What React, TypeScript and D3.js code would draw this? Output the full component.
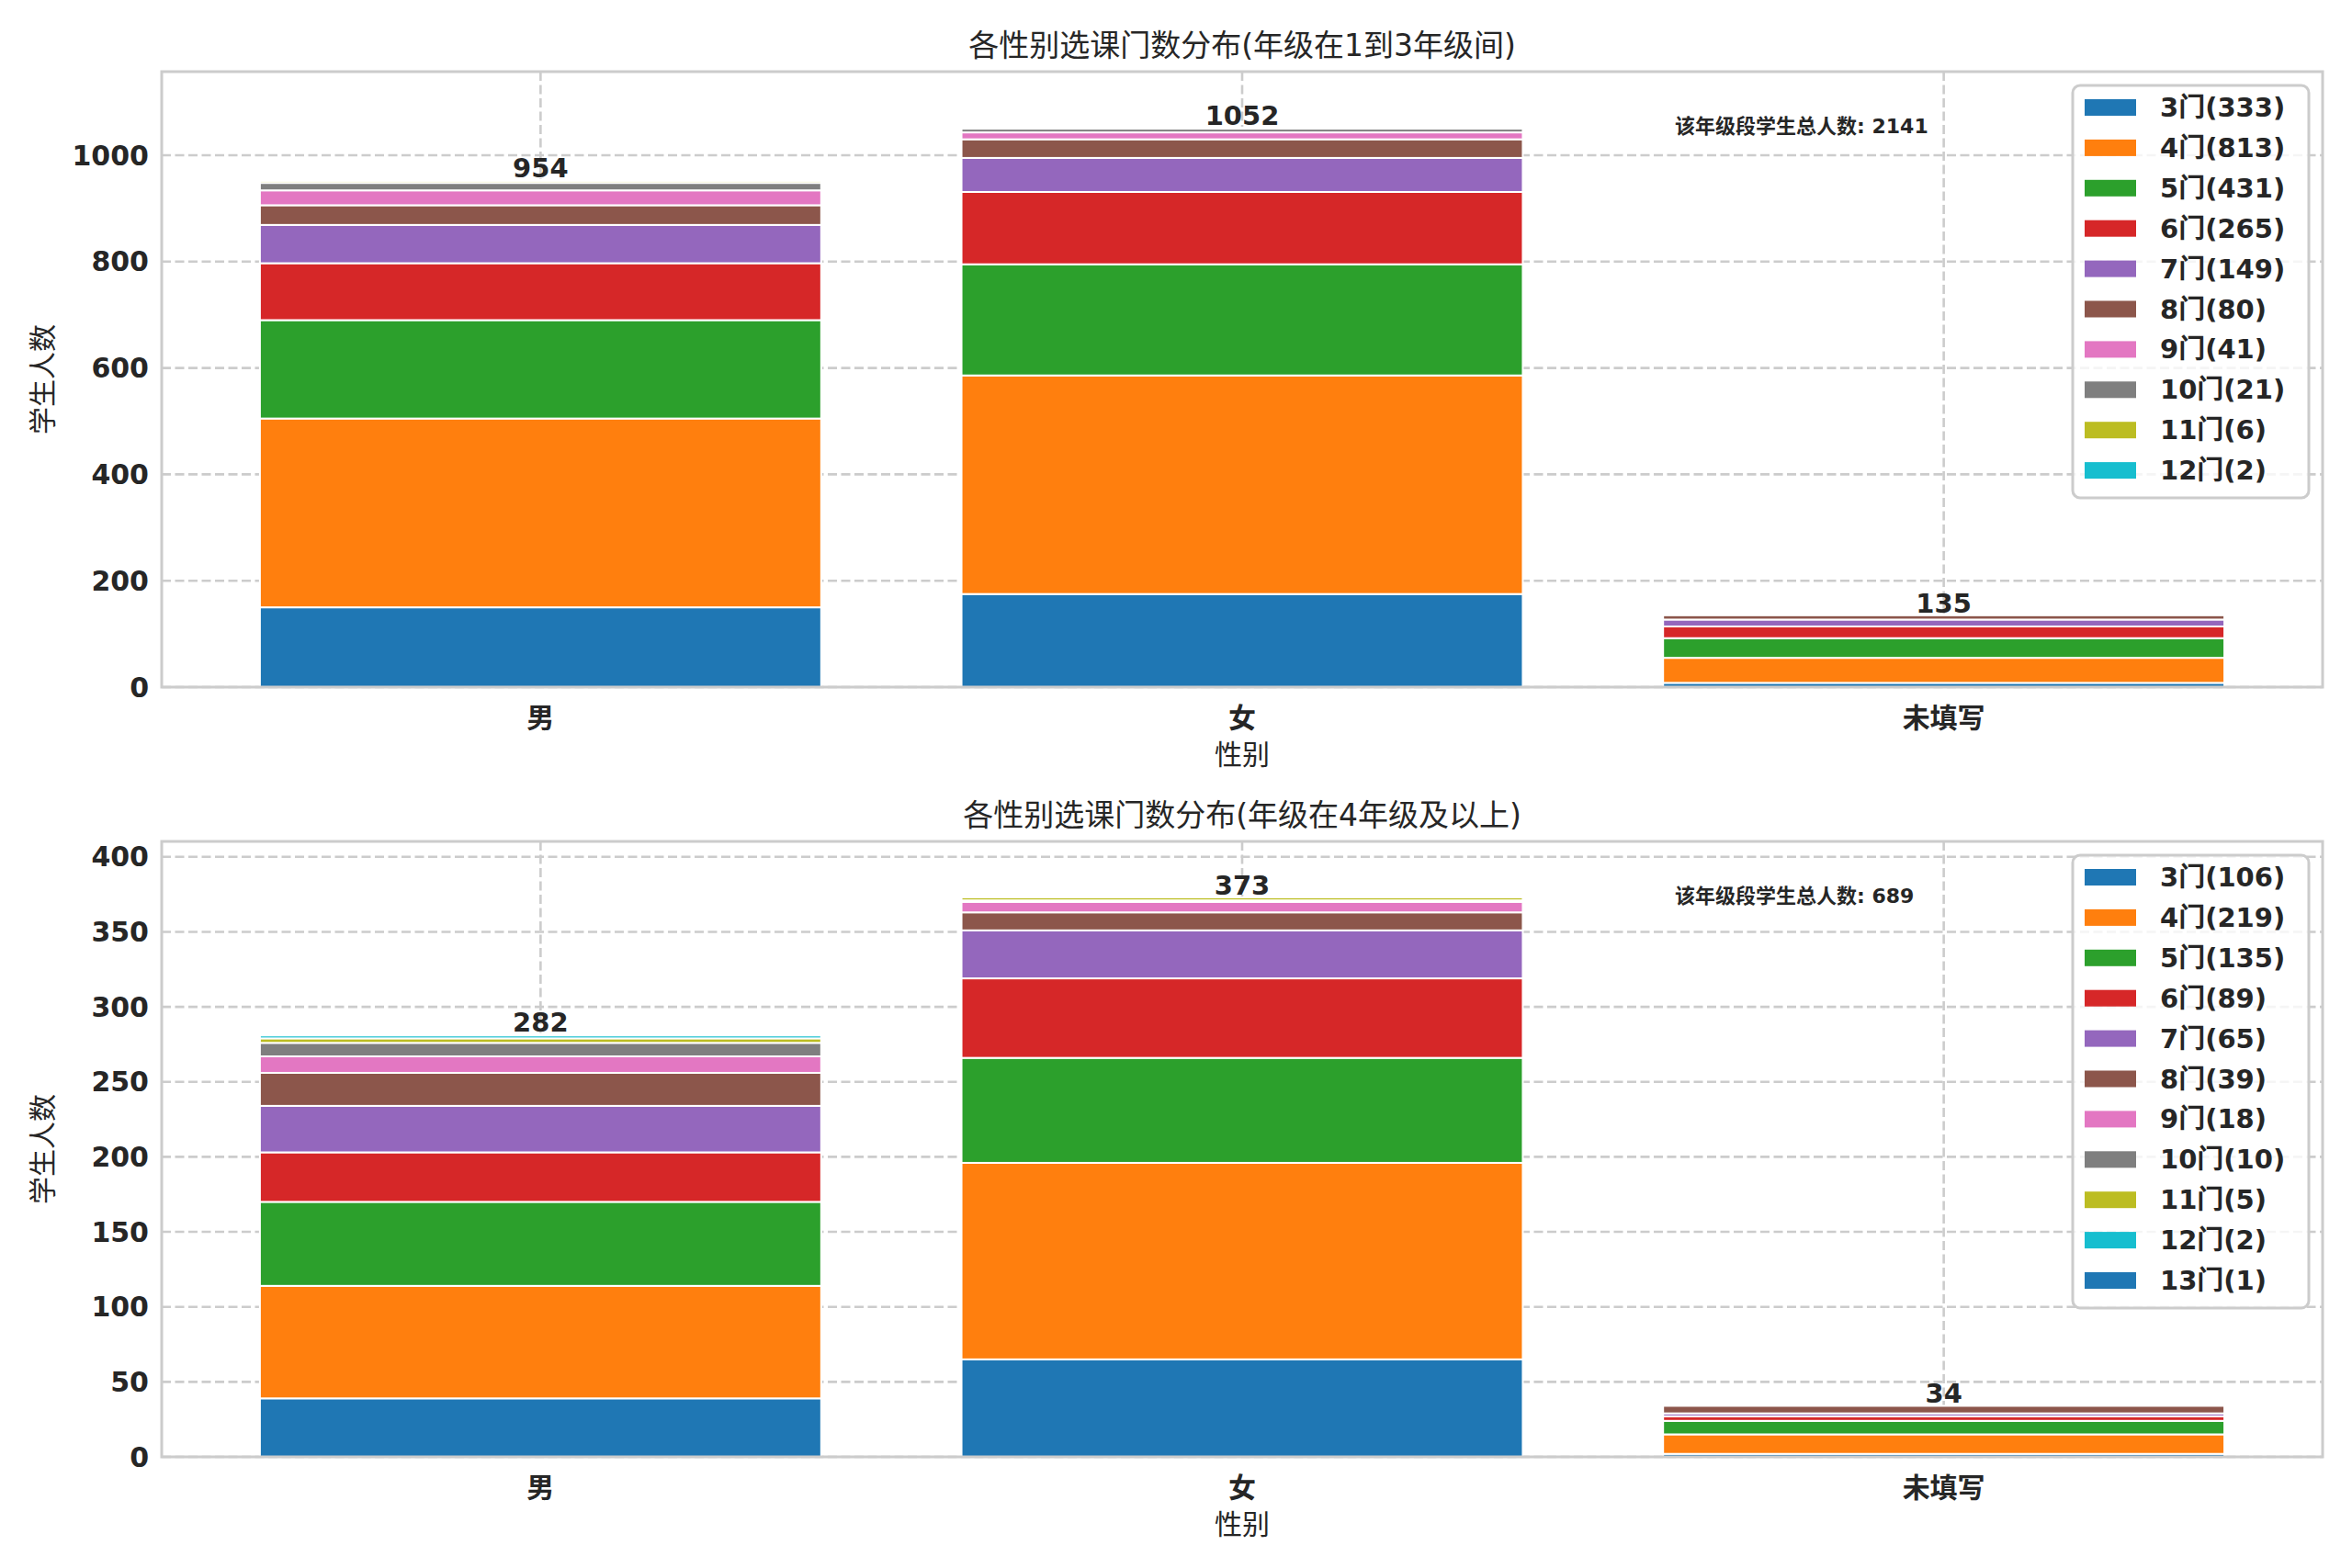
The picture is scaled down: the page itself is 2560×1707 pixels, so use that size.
import React, { useEffect } from "react";
import * as d3 from "d3";

// categories on the x axis
const genders = ["男", "女", "未填写"];

// top panel: grades 3..12, values per gender [男, 女, 未填写]
const topGrades = [3, 4, 5, 6, 7, 8, 9, 10, 11, 12];
const topValues = [
  [150, 175, 8],
  [355, 411, 47],
  [185, 209, 37],
  [107, 136, 22],
  [72, 64, 13],
  [37, 35, 8],
  [28, 13, 0],
  [14, 7, 0],
  [4, 2, 0],
  [2, 0, 0],
];

// bottom panel: grades 3..13
const bottomGrades = [3, 4, 5, 6, 7, 8, 9, 10, 11, 12, 13];
const bottomValues = [
  [39, 65, 2],
  [75, 131, 13],
  [56, 70, 9],
  [33, 53, 3],
  [31, 32, 2],
  [22, 12, 5],
  [11, 7, 0],
  [9, 1, 0],
  [3, 2, 0],
  [2, 0, 0],
  [1, 0, 0],
];

const topTicks = [0, 200, 400, 600, 800, 1000];
const bottomTicks = [0, 50, 100, 150, 200, 250, 300, 350, 400];

const titles = [
  "各性别选课门数分布(年级在1到3年级间)",
  "各性别选课门数分布(年级在4年级及以上)",
];
const xLabel = "性别";
const yLabel = "学生人数";
const totalLabel = "该年级段学生总人数";

const palette = [
  "#1f77b4", "#ff7f0e", "#2ca02c", "#d62728", "#9467bd",
  "#8c564b", "#e377c2", "#7f7f7f", "#bcbd22", "#17becf",
];

const W = 2560;
const H = 1707;
const LEFT = 176;
const RIGHT = 2528;
const FONT = "'DejaVu Sans', 'Noto Sans CJK SC', sans-serif";
const TEXT = "#262626";
const GRID = "#cccccc";

type PanelProps = {
  top: number;
  bottom: number;
  grades: number[];
  values: number[][];
  ticks: number[];
  title: string;
};

const Panel: React.FC<PanelProps> = ({ top, bottom, grades, values, ticks, title }) => {
  const keys = grades.map((g) => `g${g}`);
  const rows = genders.map((name, gi) => {
    const row: Record<string, number | string> = { name };
    grades.forEach((g, i) => (row[`g${g}`] = values[i][gi]));
    return row;
  });
  const series = d3.stack<Record<string, number | string>>().keys(keys)(rows as any);
  const totals = genders.map((_, gi) => d3.sum(values, (v) => v[gi]));
  const gradeTotals = values.map((v) => d3.sum(v));
  const grand = d3.sum(totals);

  const x = d3.scaleLinear().domain([-0.54, 2.54]).range([LEFT, RIGHT]);
  const y = d3.scaleLinear().domain([0, (d3.max(totals) ?? 0) * 1.1]).range([bottom, top]);
  const bw = x(0.4) - x(0);

  const legTop = top + 15;
  const pitch = 43.9;
  const legH = grades.length * pitch + 10;
  const legX = 2256;
  const legW = 257;

  return (
    <g>
      {/* grid */}
      {ticks.map((t) => (
        <line key={`h${t}`} x1={LEFT} x2={RIGHT} y1={y(t)} y2={y(t)}
          stroke={GRID} strokeWidth={2.6} strokeDasharray="10,4.5" />
      ))}
      {genders.map((_, i) => (
        <line key={`v${i}`} x1={x(i)} x2={x(i)} y1={top} y2={bottom}
          stroke={GRID} strokeWidth={2.6} strokeDasharray="10,4.5" />
      ))}

      {/* bars */}
      {series.map((s, si) => (
        <g key={s.key} fill={palette[si % palette.length]}>
          {s.map((d, gi) =>
            d[1] - d[0] > 0 ? (
              <rect key={gi} x={x(gi) - bw} width={bw * 2}
                y={y(d[1])} height={y(d[0]) - y(d[1])}
                stroke="#ffffff" strokeWidth={2} />
            ) : null
          )}
        </g>
      ))}

      {/* totals above bars */}
      {totals.map((t, gi) => (
        <text key={gi} x={x(gi)} y={y(t) - 3} textAnchor="middle"
          fontSize={29} fontWeight="bold" fill={TEXT}>{t}</text>
      ))}

      <text x={1823} y={top + 59} dominantBaseline="central" fontSize={22}
        fontWeight="bold" fill={TEXT}>{`${totalLabel}: ${grand}`}</text>

      {/* spines */}
      <rect x={LEFT} y={top} width={RIGHT - LEFT} height={bottom - top}
        fill="none" stroke={GRID} strokeWidth={3} />

      {/* y ticks */}
      {ticks.map((t) => (
        <text key={`yt${t}`} x={162} y={y(t)} textAnchor="end" dominantBaseline="central"
          fontSize={30} fontWeight="bold" fill={TEXT}>{t}</text>
      ))}
      {/* x ticks */}
      {genders.map((g, i) => (
        <text key={`xt${i}`} x={x(i)} y={bottom + 33} textAnchor="middle"
          dominantBaseline="central" fontSize={30} fontWeight="bold" fill={TEXT}>{g}</text>
      ))}

      <text x={(LEFT + RIGHT) / 2} y={bottom + 73} textAnchor="middle"
        dominantBaseline="central" fontSize={30} fill={TEXT}>{xLabel}</text>
      <text transform={`translate(46,${(top + bottom) / 2}) rotate(-90)`} textAnchor="middle"
        dominantBaseline="central" fontSize={30} fill={TEXT}>{yLabel}</text>
      <text x={(LEFT + RIGHT) / 2} y={top - 29} textAnchor="middle"
        dominantBaseline="central" fontSize={33} fill={TEXT}>{title}</text>

      {/* legend */}
      <rect x={legX} y={legTop} width={legW} height={legH} rx={8}
        fill="#ffffff" fillOpacity={0.8} stroke={GRID} strokeWidth={3} />
      {grades.map((g, i) => {
        const cy = legTop + 24 + i * pitch;
        return (
          <g key={`lg${g}`}>
            <rect x={legX + 13} y={cy - 9} width={56} height={18}
              fill={palette[i % palette.length]} />
            <text x={legX + 95} y={cy} dominantBaseline="central" fontSize={29}
              fontWeight="bold" fill={TEXT}>{`${g}门(${gradeTotals[i]})`}</text>
          </g>
        );
      })}
    </g>
  );
};

export default function App() {
  useEffect(() => {
    document.body.style.margin = "0";
  }, []);
  return (
    <svg width={W} height={H} viewBox={`0 0 ${W} ${H}`} style={{ display: "block", background: "#fff" }}
      fontFamily={FONT}>
      <Panel top={78} bottom={748} grades={topGrades} values={topValues}
        ticks={topTicks} title={titles[0]} />
      <Panel top={916} bottom={1586} grades={bottomGrades} values={bottomValues}
        ticks={bottomTicks} title={titles[1]} />
    </svg>
  );
}
